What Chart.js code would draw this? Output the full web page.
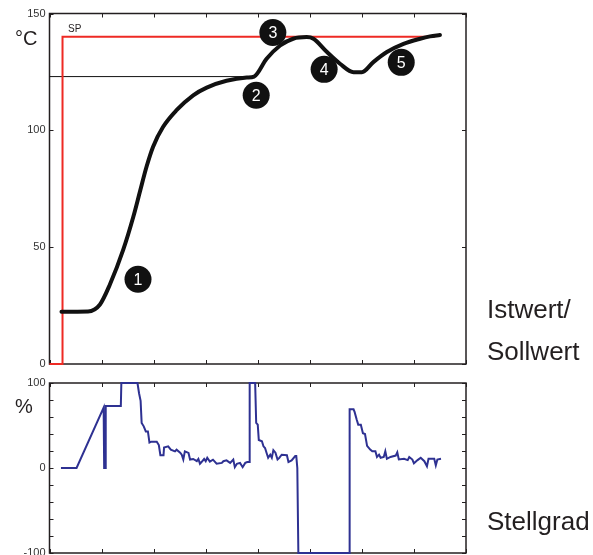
<!DOCTYPE html>
<html>
<head>
<meta charset="utf-8">
<script src="https://cdn.jsdelivr.net/npm/chart.js@4"></script>
<style>
  body { margin: 0; background: #fff; }
  #wrap { position: relative; width: 593px; height: 555px; font-family: "Liberation Sans", Arial, sans-serif; color: #231f20; }
  canvas { position: absolute; left: 0; top: 0; }
  .lbl { position: absolute; white-space: nowrap; }
</style>
</head>
<body>
<div id="wrap">
  <canvas id="temp" width="593" height="555"></canvas>
  <canvas id="stell" width="593" height="555"></canvas>
  <div class="lbl" style="left:15px;top:28px;font-size:20px;line-height:20px">°C</div>
  <div class="lbl" style="left:15px;top:396px;font-size:20px;line-height:20px">%</div>
  <div class="lbl" style="left:487px;top:296px;font-size:26px;line-height:26px">Istwert/</div>
  <div class="lbl" style="left:487px;top:338px;font-size:26px;line-height:26px">Sollwert</div>
  <div class="lbl" style="left:487px;top:508px;font-size:26px;line-height:26px">Stellgrad</div>
</div>
<script>
// x axis: 8 equal divisions, no labels
const xTicks = [0, 1, 2, 3, 4, 5, 6, 7, 8];

// setpoint (SP)
const spX = [0, 0.25, 0.25, 7.4];
const spY = [0, 0, 140, 140];

// intermediate level line
const stufeX = [0, 3.93];
const stufeY = [123, 123];

// actual value (Istwert)
const istX = [0.23, 0.74, 0.97, 1.16, 1.415, 1.61, 1.74, 1.865, 1.99, 2.18, 2.44, 2.76, 3.02, 3.40, 3.79, 3.93,
              4.17, 4.43, 4.68, 4.94, 5.07, 5.33, 5.58, 5.84, 6.0, 6.22, 6.48, 6.8, 7.12, 7.31, 7.5];
const istY = [22.4, 22.5, 25.5, 34, 48.8, 63, 74, 84.5, 93, 101.4, 108.6, 115, 118.3, 121.2, 122.6, 123,
              130.6, 136.3, 139.2, 139.9, 139.2, 133.5, 128.5, 124.9, 124.9, 129.2, 133.5, 137, 139.2, 140.2, 140.8];

// numbered markers
const markX = [1.70, 3.97, 4.29, 5.275, 6.756];
const markY = [36.3, 115, 141.9, 126.1, 129.1];
const markLabels = ["1", "2", "3", "4", "5"];

// controller output (Stellgrad)
const stellX = [0.22, 0.52, 1.04, 1.05, 1.07, 1.08, 1.37, 1.38, 1.69, 1.72, 1.75, 1.77, 1.81, 1.85, 1.89, 1.92, 1.96,
  2.06, 2.10, 2.13, 2.19, 2.20, 2.28, 2.33, 2.41, 2.44, 2.51, 2.54, 2.57, 2.60, 2.67, 2.70, 2.76, 2.83, 2.86, 2.89,
  2.92, 2.97, 3.0, 3.03, 3.08, 3.14, 3.21, 3.31, 3.34, 3.40, 3.47, 3.53, 3.56, 3.60, 3.66, 3.71, 3.76, 3.80, 3.84,
  3.845, 3.95, 3.97, 4.0, 4.02, 4.08, 4.11, 4.14, 4.17, 4.20, 4.24, 4.27, 4.30, 4.34, 4.38, 4.41, 4.46, 4.56, 4.59,
  4.65, 4.72, 4.74, 4.76, 4.78, 5.76, 5.765, 5.84, 5.86, 5.90, 5.93, 5.98, 6.02, 6.06, 6.10, 6.16, 6.20, 6.26, 6.29,
  6.33, 6.36, 6.42, 6.45, 6.48, 6.55, 6.65, 6.68, 6.71, 6.81, 6.88, 6.91, 6.97, 7.0, 7.07, 7.13, 7.20, 7.25, 7.28,
  7.39, 7.42, 7.45, 7.52];
const stellY = [0, 0, 71, 0, 0, 73, 73, 100, 100, 88, 79, 53, 49, 43, 43, 30, 31,
  31, 27, 15, 15, 24, 25.5, 21.5, 19.6, 21.5, 18, 15.6, 10, 19.6, 17.7, 10, 10.6, 8, 10.6, 5,
  7, 10.6, 8, 12, 7.5, 9.8, 5, 6, 8, 9, 6, 9.8, 1, 5, 6, 1, 6, 7, 7,
  100, 100, 53, 51, 33, 31.5, 25.5, 23.6, 17.7, 12, 15.6, 12, 21, 18, 10, 11.6, 15.6, 15, 7,
  9, 14, 14, 0, -100, -100, 69, 69, 66, 57, 51, 51, 41, 40, 26, 21.6, 19.6, 19.6, 13,
  15.7, 12, 13, 19.6, 10.8, 13, 14.6, 18.5, 10, 10.8, 9.3, 13, 10, 5.5, 9.3, 12, 8, 2, 10.8,
  10.8, 3, 10, 10.8];

const FONT = "'Liberation Sans', Arial, sans-serif";
const toXY = (xs, ys) => xs.map((x, i) => ({ x: x, y: ys[i] }));

// frame with inward tick marks on all four sides
const frame = {
  id: "frame",
  beforeDatasetsDraw(chart) {
    const { ctx, chartArea: a, scales } = chart;
    ctx.save();
    ctx.strokeStyle = "#231f20";
    ctx.lineWidth = 1.5;
    ctx.strokeRect(a.left, a.top, a.right - a.left, a.bottom - a.top);
    ctx.lineWidth = 1;
    ctx.beginPath();
    xTicks.forEach(v => {
      const px = Math.round(scales.x.getPixelForValue(v)) + 0.5;
      ctx.moveTo(px, a.top); ctx.lineTo(px, a.top + 4);
      ctx.moveTo(px, a.bottom); ctx.lineTo(px, a.bottom - 4);
    });
    scales.y.ticks.forEach(t => {
      const py = Math.round(scales.y.getPixelForValue(t.value)) + 0.5;
      ctx.moveTo(a.left, py); ctx.lineTo(a.left + 4, py);
      ctx.moveTo(a.right, py); ctx.lineTo(a.right - 4, py);
    });
    ctx.stroke();
    ctx.restore();
  }
};

// white numbers on the black markers + SP label
const badges = {
  id: "badges",
  afterDatasetsDraw(chart) {
    const { ctx, scales } = chart;
    ctx.save();
    ctx.fillStyle = "#fff";
    ctx.font = "16px " + FONT;
    ctx.textAlign = "center";
    ctx.textBaseline = "middle";
    chart.getDatasetMeta(0).data.forEach((pt, i) => {
      ctx.fillText(markLabels[i], pt.x, pt.y + 1);
    });
    ctx.fillStyle = "#231f20";
    ctx.font = "10px " + FONT;
    ctx.textAlign = "left";
    ctx.textBaseline = "alphabetic";
    ctx.fillText("SP", scales.x.getPixelForValue(spX[1]) + 5.6, scales.y.getPixelForValue(spY[2]) - 4.7);
    ctx.restore();
  }
};

function yAxis(min, max, step, cb) {
  return {
    min: min, max: max,
    ticks: { stepSize: step, autoSkip: false, padding: 4, color: "#333", font: { size: 11, family: FONT }, callback: cb },
    grid: { display: false, drawTicks: false },
    border: { display: false },
    afterFit(s) { s.width = 49.5; s.paddingTop = 0; s.paddingBottom = 0; }
  };
}

const common = {
  responsive: false,
  devicePixelRatio: 1,
  animation: false,
  plugins: { legend: { display: false }, tooltip: { enabled: false } }
};

new Chart(document.getElementById("temp"), {
  type: "line",
  data: {
    datasets: [
      { label: "marks", data: toXY(markX, markY), showLine: false, pointRadius: 13.5, pointBackgroundColor: "#111",
        pointBorderWidth: 0, order: 0, clip: false },
      { label: "Istwert", data: toXY(istX, istY), borderColor: "#111", borderWidth: 4, pointRadius: 0,
        cubicInterpolationMode: "monotone", borderCapStyle: "round", order: 1 },
      { label: "SP", data: toXY(spX, spY), borderColor: "#ee2a24", borderWidth: 2, pointRadius: 0, order: 2, clip: false },
      { label: "Stufe", data: toXY(stufeX, stufeY), borderColor: "#111", borderWidth: 1, pointRadius: 0, order: 3 }
    ]
  },
  options: Object.assign({}, common, {
    layout: { padding: { left: 0, top: 13, right: 127, bottom: 191 } },
    scales: {
      x: { type: "linear", min: 0, max: 8, display: false },
      y: yAxis(0, 150, 50)
    }
  }),
  plugins: [frame, badges]
});

new Chart(document.getElementById("stell"), {
  type: "line",
  data: {
    datasets: [
      { label: "Stellgrad", data: toXY(stellX, stellY), borderColor: "#2e3192", borderWidth: 2, pointRadius: 0,
        borderJoinStyle: "miter", clip: false }
    ]
  },
  options: Object.assign({}, common, {
    layout: { padding: { left: 0, top: 383, right: 127, bottom: 2 } },
    scales: {
      x: { type: "linear", min: 0, max: 8, display: false },
      y: yAxis(-100, 100, 20, v => (v % 100 === 0 ? v : ""))
    }
  }),
  plugins: [frame]
});
</script>
</body>
</html>
